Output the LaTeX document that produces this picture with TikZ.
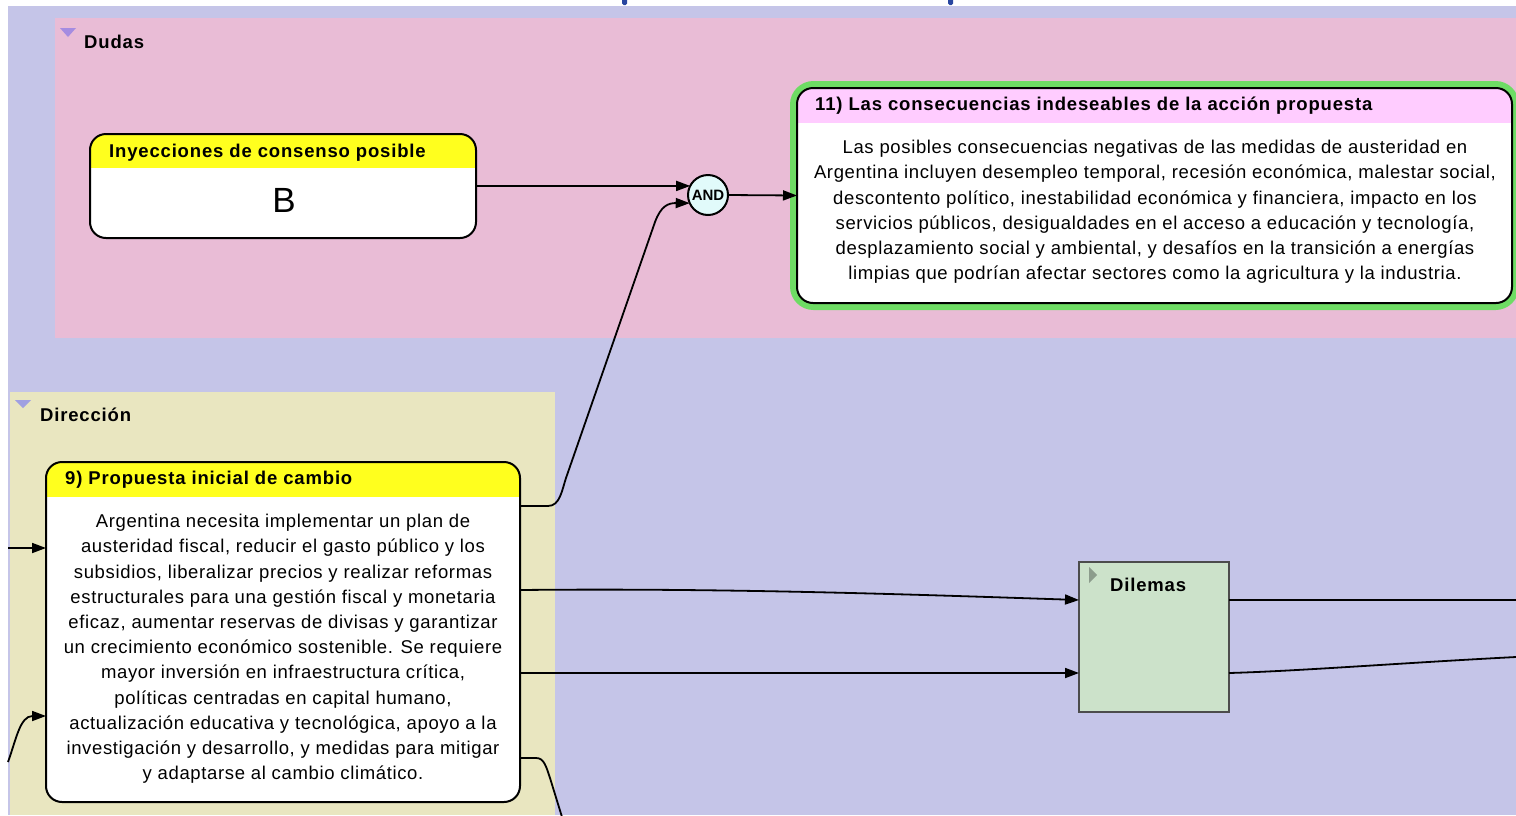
\documentclass[tikz,border=0pt]{standalone}
\usepackage{fontspec}
\setmainfont{Liberation Sans}
\usetikzlibrary{arrows.meta,calc}
\definecolor{lav}{RGB}{197,197,232}
\definecolor{pinkbg}{RGB}{233,188,214}
\definecolor{beige}{RGB}{233,230,192}
\definecolor{hdryellow}{RGB}{255,255,30}
\definecolor{hdrpink}{RGB}{255,204,255}
\definecolor{greenbd}{RGB}{110,220,100}
\definecolor{dilgreen}{RGB}{204,226,202}
\definecolor{andfill}{RGB}{225,250,250}
\definecolor{tripurple}{RGB}{165,140,225}
\definecolor{trilav}{RGB}{160,160,225}
\definecolor{trigray}{RGB}{140,156,140}
\definecolor{markblue}{RGB}{40,70,160}
\tikzset{
  box/.style={rectangle, rounded corners=16pt, inner sep=0pt, outer sep=0pt},
  border/.style={line width=2pt, rounded corners=16pt},
  conn/.style={line width=1.8pt, -{Triangle[length=14pt,width=10pt]}},
  plain/.style={line width=1.8pt},
  titletext/.style={anchor=west, inner sep=0pt, font=\fontsize{18.5}{22}\selectfont\bfseries\addfontfeature{LetterSpace=4.5}},
  bodytext/.style={align=center, inner sep=0pt, font=\fontsize{18.5}{25.2}\selectfont\addfontfeature{LetterSpace=3.5}},
  grouplabel/.style={anchor=west, inner sep=0pt, font=\fontsize{18.5}{22}\selectfont\bfseries\addfontfeature{LetterSpace=4.5}},
}
\begin{document}
\begin{tikzpicture}[x=1pt,y=-1pt]
\useasboundingbox (0,0) rectangle (1516,815);
\fill[white] (0,0) rectangle (1516,815);
% top fragments
\fill[markblue, rounded corners=1.5pt] (622,-2) rectangle (627,5);
\fill[markblue, rounded corners=1.5pt] (948,-2) rectangle (953,5);
% backgrounds
\fill[lav] (8,6) rectangle (1516,815);
\fill[pinkbg] (55,18) rectangle (1516,338);
\fill[beige] (10,392) rectangle (555,815);
% group labels
\fill[tripurple] (60,28) -- (76,28) -- (68,37) -- cycle;
\node[grouplabel] (lDudas) at (84,42) {Dudas};
\fill[trilav] (15,400) -- (31,400) -- (23,408) -- cycle;
\node[grouplabel] (lDir) at (40,415) {Dirección};

% Node B
\node[box, fill=white, minimum width=386pt, minimum height=104pt] (nB) at (283,186) {};
\begin{scope}
\clip (nB.north west) rectangle ([yshift=-33pt]nB.north east);
\fill[hdryellow, rounded corners=16pt] (nB.north west) rectangle (nB.south east);
\end{scope}
\draw[border] (nB.north west) rectangle (nB.south east);
\node[titletext] (tB) at (109,153) {Inyecciones de consenso posible};
\node[inner sep=0pt, font=\fontsize{35}{40}\selectfont] (bB) at (284,200) {B};

% AND
\node[circle, draw, line width=2pt, fill=andfill, minimum size=40pt, inner sep=0pt, outer sep=0pt, font=\fontsize{15}{17}\selectfont\bfseries] (nAND) at (708,195) {AND};

% Node 11
\node[box, fill=white, minimum width=715pt, minimum height=215pt] (n11) at (1154.5,195.5) {};
\draw[line width=1.8pt] (n11.east) -- (1516,195.5);
\draw[greenbd, line width=7pt, rounded corners=20pt] ([shift={(-3.5pt,3.5pt)}]n11.north west) rectangle ([shift={(3.5pt,-3.5pt)}]n11.south east);
\begin{scope}
\clip (n11.north west) rectangle ([yshift=-34pt]n11.north east);
\fill[hdrpink, rounded corners=16pt] (n11.north west) rectangle (n11.south east);
\end{scope}
\draw[border] (n11.north west) rectangle (n11.south east);
\node[titletext] (t11) at (815,106) {11) Las consecuencias indeseables de la acción propuesta};
\node[bodytext] (b11) at (1155,212) {Las posibles consecuencias negativas de las medidas de austeridad en\\
Argentina incluyen desempleo temporal, recesión económica, malestar social,\\
descontento político, inestabilidad económica y financiera, impacto en los\\
servicios públicos, desigualdades en el acceso a educación y tecnología,\\
desplazamiento social y ambiental, y desafíos en la transición a energías\\
limpias que podrían afectar sectores como la agricultura y la industria.};

% Node 9
\node[box, fill=white, minimum width=474pt, minimum height=340pt] (n9) at (283,632) {};
\begin{scope}
\clip (n9.north west) rectangle ([yshift=-34pt]n9.north east);
\fill[hdryellow, rounded corners=16pt] (n9.north west) rectangle (n9.south east);
\end{scope}
\draw[border] (n9.north west) rectangle (n9.south east);
\node[titletext] (t9) at (65,480) {9) Propuesta inicial de cambio};
\node[bodytext] (b9) at (283,649) {Argentina necesita implementar un plan de\\
austeridad fiscal, reducir el gasto público y los\\
subsidios, liberalizar precios y realizar reformas\\
estructurales para una gestión fiscal y monetaria\\
eficaz, aumentar reservas de divisas y garantizar\\
un crecimiento económico sostenible. Se requiere\\
mayor inversión en infraestructura crítica,\\
políticas centradas en capital humano,\\
actualización educativa y tecnológica, apoyo a la\\
investigación y desarrollo, y medidas para mitigar\\
y adaptarse al cambio climático.};

% Dilemas
\node[rectangle, draw=black!70, line width=2pt, fill=dilgreen, minimum width=150pt, minimum height=150pt, inner sep=0pt, outer sep=0pt] (nD) at (1154,637) {};
\fill[trigray] (1089,567) -- (1097,575) -- (1089,583) -- cycle;
\node[grouplabel] (tD) at (1110,585) {Dilemas};

% free ends
\coordinate (lf1) at (8,548);
\coordinate (lf2) at (8,762);
\coordinate (rt1) at (1516,600);
\coordinate (rt2) at (1516,657);
\coordinate (bt1) at (562,817);

% connectors
\draw[conn] (nB.east) -- (nAND.153);
\draw[conn] ([yshift=-44pt]n9.north east) -- (548,506) .. controls (560,506) and (562,490) .. (566,478) -- (655,222) .. controls (661,206) and (668,203) .. (nAND.204);
\draw[conn] (nAND.east) -- (n11.west);
\draw[conn] ([yshift=-128pt]n9.north east) .. controls (720,588) and (900,594) .. ([yshift=-38pt]nD.north west);
\draw[conn] ([yshift=-211pt]n9.north east) -- ([yshift=-111pt]nD.north west);
\draw[plain] ([yshift=-38pt]nD.north east) -- (rt1);
\draw[plain] ([yshift=-111pt]nD.north east) .. controls (1300,671) and (1400,663) .. (rt2);
\draw[conn] (lf1) -- ([yshift=-86pt]n9.north west);
\draw[conn] (lf2) .. controls (16,740) and (20,716) .. ([yshift=-254pt]n9.north west);
\draw[plain] ([yshift=-296pt]n9.north east) -- (536,758) .. controls (544,758) and (546,766) .. (550,778) -- (bt1);
\end{tikzpicture}
\end{document}
